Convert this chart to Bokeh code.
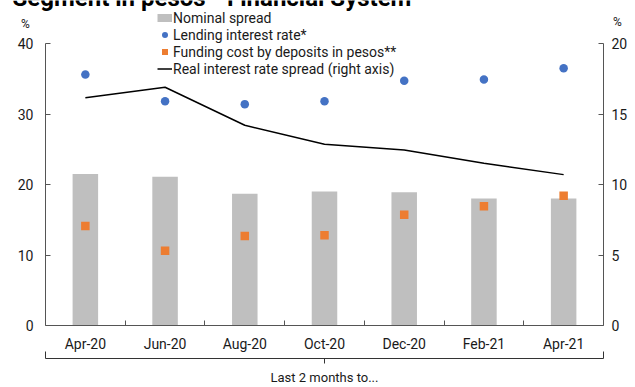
import numpy as np
from bokeh.plotting import figure
from bokeh.models import Range1d, LinearAxis, FixedTicker, Legend, LegendItem, Label
from bokeh.embed import file_html
from bokeh.resources import INLINE

months = ["Apr-20", "Jun-20", "Aug-20", "Oct-20", "Dec-20", "Feb-21", "Apr-21"]
nominal_spread = [21.5, 21.1, 18.7, 19.0, 18.9, 18.0, 18.0]
lending_rate = [35.6, 31.8, 31.4, 31.8, 34.7, 34.9, 36.5]
funding_cost = [14.1, 10.6, 12.7, 12.8, 15.7, 16.9, 18.4]
real_spread = [16.15, 16.9, 14.2, 12.85, 12.45, 11.5, 10.7]
left_ticks = [0, 10, 20, 30, 40]
right_ticks = [0, 5, 10, 15, 20]

FONT = "Roboto"
TXT = "#1a1a1a"
AX = "#555555"

# layout (pixels) of the plotting area inside the 635x387 canvas
W, H = 635, 387
PX_L, PX_R, PX_T, PX_B = 45, 603, 43, 325
BRACE_Y = 358

x = list(range(len(months)))
x0, x1 = -0.5, len(months) - 0.5
ppx = (PX_R - PX_L) / (x1 - x0)
ymax_l, ymax_r = left_ticks[-1], right_ticks[-1]
ppy = (PX_B - PX_T) / ymax_l
ppr = (PX_B - PX_T) / ymax_r

p = figure(width=W, height=H, output_backend="svg", toolbar_location=None,
           x_range=Range1d(x0 - PX_L / ppx, x1 + (W - PX_R) / ppx),
           y_range=Range1d(-(H - PX_B) / ppy, ymax_l + PX_T / ppy),
           min_border=0, min_border_left=0, min_border_right=0, min_border_top=0, min_border_bottom=0,
           outline_line_color=None, background_fill_color="white", border_fill_color="white")
p.extra_y_ranges = {"right": Range1d(-(H - PX_B) / ppr, ymax_r + PX_T / ppr)}
p.xgrid.visible = False
p.ygrid.visible = False

# x axis (category labels at centres, ticks between categories)
xa = p.xaxis[0]
xa.fixed_location = 0
xa.bounds = (x0, x1)
xa.ticker = FixedTicker(ticks=x, minor_ticks=[i + 0.5 for i in x[:-1]])
xa.major_label_overrides = {i: m for i, m in enumerate(months)}
xa.major_tick_in = 0
xa.major_tick_out = 0
xa.minor_tick_in = 5
xa.minor_tick_out = 0
xa.major_label_standoff = 10
xa.axis_line_color = AX
xa.minor_tick_line_color = AX
xa.major_label_text_font = FONT
xa.major_label_text_font_size = "14px"
xa.major_label_text_color = TXT

# left axis
ya = p.yaxis[0]
ya.fixed_location = x0
ya.bounds = (0, ymax_l)
ya.ticker = FixedTicker(ticks=left_ticks)
ya.major_tick_in = 5
ya.major_tick_out = 0
ya.minor_tick_line_color = None
ya.major_label_standoff = 12
ya.axis_line_color = AX
ya.major_tick_line_color = AX
ya.major_label_text_font = FONT
ya.major_label_text_font_size = "14px"
ya.major_label_text_color = TXT

# right axis
ra = LinearAxis(y_range_name="right", ticker=FixedTicker(ticks=right_ticks),
                fixed_location=x1, bounds=(0, ymax_r))
ra.major_tick_in = 5
ra.major_tick_out = 0
ra.minor_tick_line_color = None
ra.major_label_standoff = 8
ra.axis_line_color = AX
ra.major_tick_line_color = AX
ra.major_label_text_font = FONT
ra.major_label_text_font_size = "14px"
ra.major_label_text_color = TXT
p.add_layout(ra, "right")

# brace below the category labels
brace = LinearAxis(fixed_location=-(BRACE_Y - PX_B) / ppy, bounds=(x0, x1),
                   ticker=FixedTicker(ticks=[x0, x1], minor_ticks=[(x0 + x1) / 2]))
brace.major_label_overrides = {x0: "", x1: ""}
brace.major_tick_in = 7
brace.major_tick_out = 0
brace.minor_tick_in = 0
brace.minor_tick_out = 5
brace.axis_line_color = "#333333"
brace.major_tick_line_color = "#333333"
brace.minor_tick_line_color = "#333333"
brace.major_label_text_font_size = "1px"
p.add_layout(brace, "below")

bars = p.vbar(x=x, top=nominal_spread, width=0.32, fill_color="#BFBFBF", line_color=None)
real = p.line(x, real_spread, y_range_name="right", line_color="black", line_width=1.5)
dots = p.scatter(x, lending_rate, marker="circle", size=8.5, fill_color="#4472C4", line_color=None)
sq = p.scatter(x, funding_cost, marker="square", size=8.5, fill_color="#ED7D31", line_color=None)
# legend swatch for the bars (a flat grey strip); draws nothing in the plot
bar_key = p.line(x=x, y=np.full(len(x), np.nan), line_color="#BFBFBF", line_width=8)

legend = Legend(items=[
    LegendItem(label="Nominal spread", renderers=[bar_key]),
    LegendItem(label="Lending interest rate*", renderers=[dots]),
    LegendItem(label="Funding cost by deposits in pesos**", renderers=[sq]),
    LegendItem(label="Real interest rate spread (right axis)", renderers=[real]),
], location=(157, H - 77), orientation="vertical",
    border_line_color=None, background_fill_alpha=0, padding=0, margin=0,
    spacing=0, label_height=17, glyph_height=17, glyph_width=15, label_standoff=1,
    label_text_font=FONT, label_text_font_size="14px", label_text_color=TXT)
p.add_layout(legend)

# title (cropped at top in the reference)
p.add_layout(Label(x=12, y=H + 3, x_units="screen", y_units="screen",
                   text="Segment in pesos - Financial System", text_font=FONT,
                   text_font_style="bold", text_font_size="24px", text_color="black",
                   text_baseline="alphabetic", text_align="left"))

# % units above both axes
for xs, ys in ((25, 23), (617, 21)):
    p.add_layout(Label(x=xs, y=H - ys, x_units="screen", y_units="screen", text="%",
                       text_font=FONT, text_font_size="12px", text_color=TXT,
                       text_align="center", text_baseline="middle"))

p.add_layout(Label(x=(PX_L + PX_R) / 2, y=H - 377, x_units="screen", y_units="screen",
                   text="Last 2 months to...", text_font=FONT, text_font_size="13px",
                   text_color=TXT, text_align="center", text_baseline="middle"))

open("out.html", "w").write(file_html(p, INLINE))
